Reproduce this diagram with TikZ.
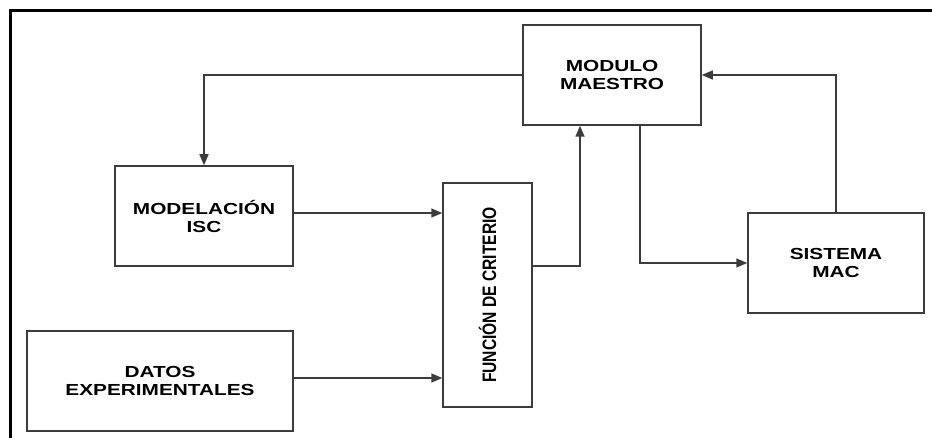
\documentclass[tikz,border=0pt]{standalone}
\usepackage{fontspec}
\setmainfont{Liberation Sans}
\newfontfamily\lblfont{Liberation Sans}[FakeStretch=1.3]
\newfontfamily\rotfont{Liberation Sans}[FakeStretch=0.8]
\usetikzlibrary{arrows.meta}
\definecolor{ln}{HTML}{3C3C3C}
\begin{document}
\begin{tikzpicture}[x=1pt,y=-1pt,
  blk/.style={draw=ln,line width=1.5pt,rectangle,inner sep=0pt,align=center,
    font=\lblfont\bfseries\fontsize{16}{18}\selectfont},
  arr/.style={draw=ln,line width=1.5pt,-{Triangle[length=11pt,width=9pt]}}]
\useasboundingbox (0,0) rectangle (932,438);
\fill[white] (0,0) rectangle (932,438);
% frame
\draw[line width=3pt,black] (10,438) -- (10,11) -- (932,11);
% blocks
\node[blk,minimum width=178pt,minimum height=100pt] (mm) at (612,75) {MODULO\\MAESTRO};
\node[blk,minimum width=178pt,minimum height=100pt] (isc) at (204,216) {MODELACIÓN\\ISC};
\node[blk,minimum width=266pt,minimum height=100pt] (dat) at (160,381) {DATOS\\EXPERIMENTALES};
\node[blk,minimum width=89pt,minimum height=224pt] (fc) at (487.5,295) {};
\node[rotate=90,font=\rotfont\bfseries\fontsize{19.5}{20}\selectfont,inner sep=0pt] (fct) at (fc.center) {FUNCIÓN DE CRITERIO};
\node[blk,minimum width=176pt,minimum height=100pt] (mac) at (836,263) {SISTEMA\\MAC};
% connectors
\draw[arr] (mm.west) -| (isc.north);
\draw[arr] ([yshift=3pt]isc.east) -- ([yshift=3pt]isc.east -| fc.west);
\draw[arr] ([yshift=3pt]dat.east) -- ([yshift=3pt]dat.east -| fc.west);
\draw[arr] ([yshift=29pt]fc.east) -| ([xshift=-32pt]mm.south);
\draw[arr] ([xshift=28pt]mm.south) |- (mac.west);
\draw[arr] (mac.north) |- (mm.east);
\end{tikzpicture}
\end{document}
